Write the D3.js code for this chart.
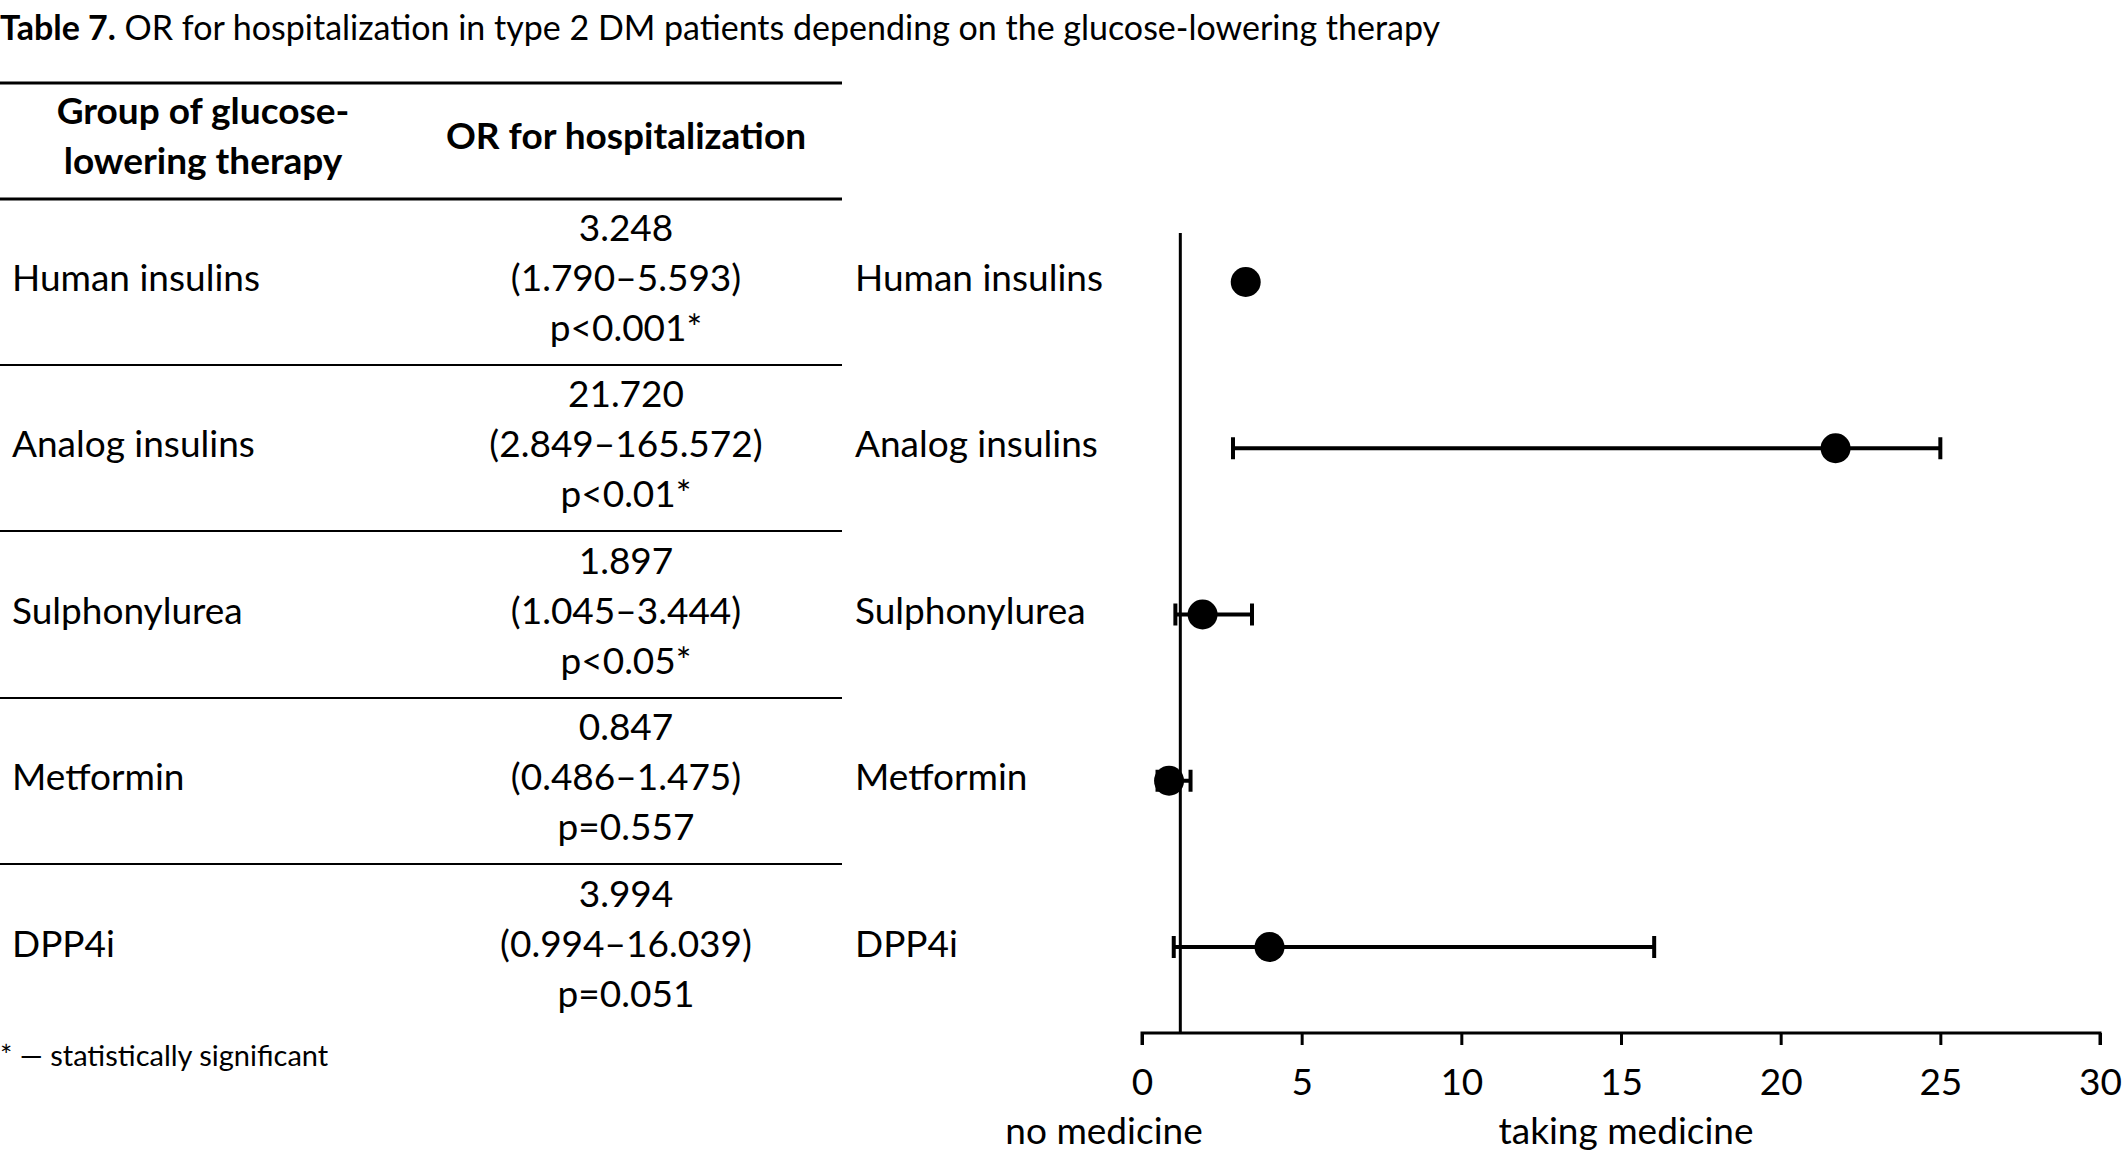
<!DOCTYPE html>
<html><head><meta charset="utf-8">
<script src="https://cdn.jsdelivr.net/npm/d3@7"></script>
<style>body{margin:0;background:#fff}text{font-family:Lato,"Open Sans",sans-serif;fill:#000}</style>
</head><body><svg id="c" width="2125" height="1164"></svg>
<script>
const groups = ["Human insulins", "Analog insulins", "Sulphonylurea", "Metformin", "DPP4i"];
const orValues = [3.248, 21.72, 1.897, 0.847, 3.994];
const ciLow = [null, 2.849, 1.045, 0.486, 0.994];
const ciHigh = [null, 25, 3.444, 1.52, 16.039];
const orText = ["3.248", "21.720", "1.897", "0.847", "3.994"];
const ciText = ["(1.790–5.593)", "(2.849–165.572)", "(1.045–3.444)", "(0.486–1.475)", "(0.994–16.039)"];
const pText = ["p<0.001*", "p<0.01*", "p<0.05*", "p=0.557", "p=0.051"];
const xTicks = [0, 5, 10, 15, 20, 25, 30];
const refLine = 1.2;

const svg = d3.select("#c");
const fs = 37;

// title
const t = svg.append("text").attr("x", 0).attr("y", 40).attr("font-size", 34);
t.append("tspan").attr("font-weight", "bold").text("Table 7.");
t.append("tspan").text(" OR for hospitalization in type 2 DM patients depending on the glucose-lowering therapy");

// table
const rowY = d3.scalePoint().domain(groups).range([278, 944]);
[83, 199].forEach(y => svg.append("line").attr("x1", 0).attr("x2", 842).attr("y1", y).attr("y2", y).attr("stroke", "#000").attr("stroke-width", 3));
[365, 531, 698, 864].forEach(y => svg.append("line").attr("x1", 0).attr("x2", 842).attr("y1", y).attr("y2", y).attr("stroke", "#000").attr("stroke-width", 2));

const hdr = svg.append("g").attr("font-weight", "bold").attr("font-size", fs).attr("text-anchor", "middle");
hdr.append("text").attr("x", 203).attr("y", 124).text("Group of glucose-");
hdr.append("text").attr("x", 203).attr("y", 174).text("lowering therapy");
hdr.append("text").attr("x", 626).attr("y", 149).text("OR for hospitalization");

const rows = svg.append("g").attr("font-size", fs);
groups.forEach((g, i) => {
  const y = rowY(g);
  rows.append("text").attr("x", 12).attr("y", y).attr("dy", "0.35em").text(g);
  [orText[i], ciText[i], pText[i]].forEach((s, k) => {
    rows.append("text").attr("x", 626).attr("y", y + (k - 1) * 50).attr("dy", "0.35em").attr("text-anchor", "middle").text(s);
  });
  rows.append("text").attr("x", 855).attr("y", y).attr("dy", "0.35em").text(g);
});
svg.append("text").attr("x", 0).attr("y", 1066).attr("font-size", 29).text("* — statistically significant");

// forest plot
const x = d3.scaleLinear().domain([0, 30]).range([1142, 2100]);
const py = d3.scalePoint().domain(groups).range([282, 947]);
const axisY = 1033;
const ax = svg.append("g").attr("transform", `translate(0,${axisY})`)
  .call(d3.axisBottom(x).tickValues(xTicks).tickSize(12).tickPadding(20));
ax.select(".domain").attr("stroke-width", 3).attr("d", `M${x(0)},12V0H${x(30)}V12`);
ax.selectAll(".tick line").attr("stroke-width", 3);
ax.selectAll(".tick text").attr("font-size", fs).attr("font-family", "Lato,sans-serif").attr("dy", "0.8em");

svg.append("line").attr("x1", x(refLine)).attr("x2", x(refLine)).attr("y1", 233).attr("y2", axisY).attr("stroke", "#000").attr("stroke-width", 3);

const ci = groups.map((g, i) => ({ g, lo: ciLow[i], hi: ciHigh[i] })).filter(d => d.lo != null);
const eb = svg.append("g").attr("stroke", "#000").attr("stroke-width", 4);
ci.forEach(d => {
  const y = py(d.g);
  eb.append("line").attr("x1", x(d.lo)).attr("x2", x(d.hi)).attr("y1", y).attr("y2", y);
  [d.lo, d.hi].forEach(v => eb.append("line").attr("x1", x(v)).attr("x2", x(v)).attr("y1", y - 11).attr("y2", y + 11));
});
svg.selectAll("circle.pt").data(groups).join("circle").attr("class", "pt")
  .attr("cx", (g, i) => x(orValues[i])).attr("cy", g => py(g)).attr("r", 15).attr("fill", "#000");

svg.append("text").attr("x", 1104).attr("y", 1144).attr("font-size", fs).attr("text-anchor", "middle").text("no medicine");
svg.append("text").attr("x", 1626).attr("y", 1144).attr("font-size", fs).attr("text-anchor", "middle").text("taking medicine");
</script></body></html>
